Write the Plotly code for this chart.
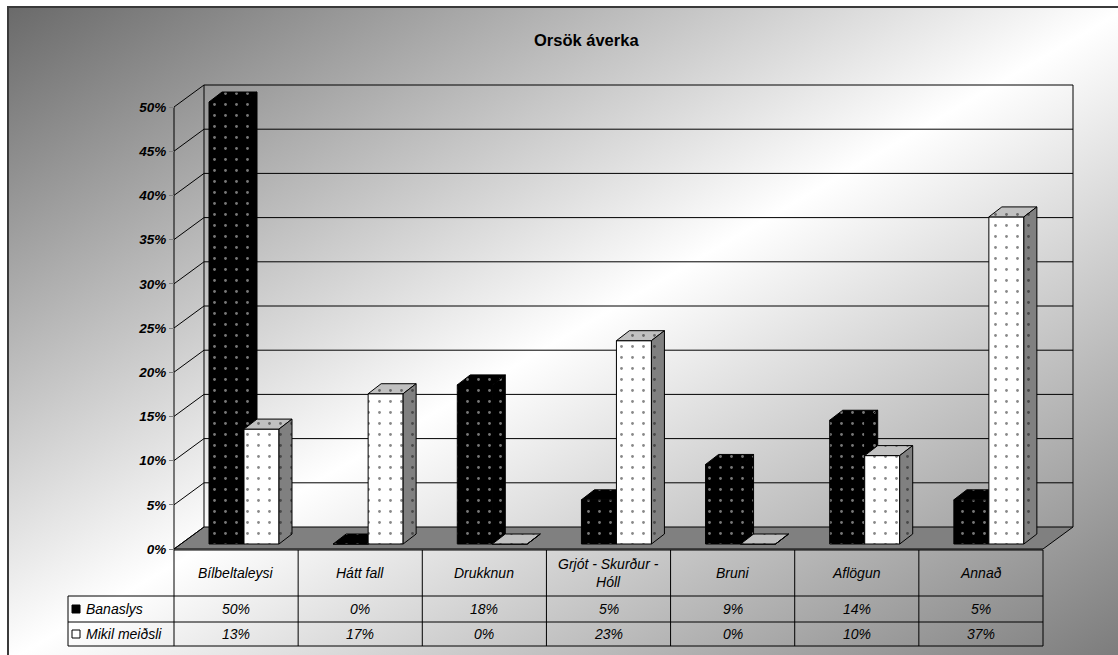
import base64
import plotly.graph_objects as go

# ---- data -------------------------------------------------------------
categories = ["Bílbeltaleysi", "Hátt fall", "Drukknun", "Grjót - Skurður - Hóll",
              "Bruni", "Aflögun", "Annað"]
category_labels = ["Bílbeltaleysi", "Hátt fall", "Drukknun", "Grjót - Skurður -<br>Hóll",
                   "Bruni", "Aflögun", "Annað"]
series_names = ["Banaslys", "Mikil meiðsli"]
banaslys = [50, 0, 18, 5, 9, 14, 5]
mikil_meidsli = [13, 17, 0, 23, 0, 10, 37]
y_ticks = [0, 5, 10, 15, 20, 25, 30, 35, 40, 45, 50]
y_tick_labels = ["0%", "5%", "10%", "15%", "20%", "25%", "30%", "35%", "40%", "45%", "50%"]

# ---- page geometry (pixels) ------------------------------------------
FIG_W, FIG_H = 1118, 655
AXIS_PX = 174            # front value axis / left edge of first category
COL_W = (1043 - 174) / 7 # width of one category column
ZERO_PX = 549            # pixel row of 0 % on the front plane
PX_PER_PCT = 8.84        # vertical pixels per percent

FONT = "Liberation Sans, Arial, sans-serif"

def px_x(px):
    return px / FIG_W

def px_y(py):
    return 1 - py / FIG_H

# depth of the floor / back wall, in data units
DEPTH_X = 30 / COL_W
DEPTH_Y = 22 / PX_PER_PCT
# columns: front-face placement and own depth
BAR_W = 35 / COL_W
BAR_OFF = 35 / COL_W
BAR_BASE = 5 / PX_PER_PCT
BAR_DX = 13 / COL_W
BAR_DY = 10 / PX_PER_PCT

x_range = [-AXIS_PX / COL_W, (FIG_W - AXIS_PX) / COL_W]
y_range = [(ZERO_PX - FIG_H) / PX_PER_PCT, ZERO_PX / PX_PER_PCT]
n_cat = len(categories)
y_top = y_ticks[-1]

styles = [
    dict(front="#000000", top="#000000", side="#000000", dots="#f0f0f0"),
    dict(front="#ffffff", top="#c0c0c0", side="#808080", dots="#111111"),
]

def face(xs, ys, fill, dots):
    return go.Scatter(
        x=xs + [xs[0]], y=ys + [ys[0]], mode="lines", fill="toself",
        fillcolor=fill,
        fillpattern=dict(shape=".", bgcolor=fill, fgcolor=dots, size=11, solidity=0.05),
        line=dict(color="#000000", width=1),
        hoverinfo="skip", showlegend=False,
    )

fig = go.Figure()

# 3-D columns, drawn category by category so nearer faces overlap correctly
for i in range(n_cat):
    for s, values in enumerate([banaslys, mikil_meidsli]):
        st = styles[s]
        v = values[i]
        x0 = i + BAR_OFF + s * BAR_W
        x1 = x0 + BAR_W
        b = BAR_BASE
        t = b + v
        fig.add_trace(face([x0, x1, x1, x0], [b, b, t, t], st["front"], st["dots"]))
        fig.add_trace(face([x0, x1, x1 + BAR_DX, x0 + BAR_DX],
                           [t, t, t + BAR_DY, t + BAR_DY], st["top"], st["dots"]))
        fig.add_trace(face([x1, x1 + BAR_DX, x1 + BAR_DX, x1],
                           [b, b + BAR_DY, t + BAR_DY, t], st["side"], st["dots"]))

shapes = []
line_k = dict(color="#000000", width=1)

# floor
shapes.append(dict(type="path", xref="x", yref="y", layer="below",
                   path=f"M 0,0 L {n_cat},0 L {n_cat + DEPTH_X},{DEPTH_Y} L {DEPTH_X},{DEPTH_Y} Z",
                   fillcolor="#808080", line=line_k))
# back wall and side wall gridlines
for t in y_ticks:
    if t > 0:
        shapes.append(dict(type="line", xref="x", yref="y", layer="below",
                           x0=DEPTH_X, x1=n_cat + DEPTH_X, y0=t + DEPTH_Y, y1=t + DEPTH_Y,
                           line=line_k))
    shapes.append(dict(type="line", xref="x", yref="y", layer="below",
                       x0=0, x1=DEPTH_X, y0=t, y1=t + DEPTH_Y, line=line_k))
for xv in [DEPTH_X, n_cat + DEPTH_X]:
    shapes.append(dict(type="line", xref="x", yref="y", layer="below",
                       x0=xv, x1=xv, y0=DEPTH_Y, y1=y_top + DEPTH_Y, line=line_k))
shapes.append(dict(type="line", xref="x", yref="y", layer="below",
                   x0=0, x1=0, y0=0, y1=y_top, line=line_k))

# data table grid
T_TOP, T_R1, T_R2, T_BOT = 550, 596, 622, 646
LEG_L = 68
T_RIGHT = AXIS_PX + COL_W * n_cat
tline = dict(color="#000000", width=1)
shapes.append(dict(type="line", xref="paper", yref="paper",
                   x0=px_x(AXIS_PX), x1=px_x(T_RIGHT), y0=px_y(T_TOP), y1=px_y(T_TOP), line=tline))
for yy in [T_R1, T_R2, T_BOT]:
    shapes.append(dict(type="line", xref="paper", yref="paper",
                       x0=px_x(LEG_L), x1=px_x(T_RIGHT), y0=px_y(yy), y1=px_y(yy), line=tline))
shapes.append(dict(type="line", xref="paper", yref="paper",
                   x0=px_x(LEG_L), x1=px_x(LEG_L), y0=px_y(T_R1), y1=px_y(T_BOT), line=tline))
for i in range(n_cat + 1):
    xx = AXIS_PX + COL_W * i
    shapes.append(dict(type="line", xref="paper", yref="paper",
                       x0=px_x(xx), x1=px_x(xx), y0=px_y(T_TOP), y1=px_y(T_BOT), line=tline))

# legend keys in the table
key_fill = ["#000000", "#ffffff"]
for s, yy in enumerate([(T_R1 + T_R2) / 2, (T_R2 + T_BOT) / 2]):
    shapes.append(dict(type="rect", xref="paper", yref="paper",
                       x0=px_x(72), x1=px_x(80), y0=px_y(yy - 4), y1=px_y(yy + 4),
                       fillcolor=key_fill[s], line=dict(color="#000000", width=1)))

# chart-area frame
shapes.append(dict(type="rect", xref="paper", yref="paper",
                   x0=px_x(8), x1=px_x(FIG_W + 10), y0=px_y(7), y1=px_y(FIG_H + 10),
                   fillcolor="rgba(0,0,0,0)", line=dict(color="#3a3a3a", width=2)))

annotations = []
annotations.append(dict(text="<b>Orsök áverka</b>", xref="paper", yref="paper",
                        x=px_x(586), y=px_y(40), showarrow=False,
                        xanchor="center", yanchor="middle",
                        font=dict(family=FONT, size=16.5, color="#000000")))
cell_font = dict(family=FONT, size=14, color="#000000", style="italic")
for i in range(n_cat):
    xc = px_x(AXIS_PX + COL_W * (i + 0.5))
    annotations.append(dict(text=category_labels[i], xref="paper", yref="paper",
                            x=xc, y=px_y((T_TOP + T_R1) / 2), showarrow=False,
                            xanchor="center", yanchor="middle", font=cell_font))
    for s, (values, yy) in enumerate([(banaslys, (T_R1 + T_R2) / 2),
                                       (mikil_meidsli, (T_R2 + T_BOT) / 2)]):
        annotations.append(dict(text=f"{values[i]}%", xref="paper", yref="paper",
                                x=xc, y=px_y(yy), showarrow=False,
                                xanchor="center", yanchor="middle", font=cell_font))
for s, yy in enumerate([(T_R1 + T_R2) / 2, (T_R2 + T_BOT) / 2]):
    annotations.append(dict(text=series_names[s], xref="paper", yref="paper",
                            x=px_x(84), y=px_y(yy), showarrow=False,
                            xanchor="left", yanchor="middle", font=cell_font))

# background gradient of the chart area
svg = (
    '<svg xmlns="http://www.w3.org/2000/svg" width="1110" height="648" '
    'preserveAspectRatio="none" viewBox="0 0 1110 648">'
    '<defs><linearGradient id="g" x1="0" y1="0" x2="1" y2="1">'
    '<stop offset="0" stop-color="#6a6a6a"/>'
    '<stop offset="0.5" stop-color="#ffffff"/>'
    '<stop offset="1" stop-color="#7a7a7a"/>'
    '</linearGradient></defs>'
    '<rect x="0" y="0" width="1110" height="648" fill="url(#g)"/></svg>'
)
bg_src = "data:image/svg+xml;base64," + base64.b64encode(svg.encode("utf-8")).decode("ascii")

fig.update_layout(
    width=FIG_W, height=FIG_H,
    margin=dict(l=0, r=0, t=0, b=0, pad=0),
    paper_bgcolor="#ffffff",
    plot_bgcolor="rgba(0,0,0,0)",
    showlegend=False,
    xaxis=dict(range=x_range, visible=False, fixedrange=True, domain=[0, 1]),
    yaxis=dict(range=y_range, domain=[0, 1], anchor="free", position=px_x(AXIS_PX),
               side="left", showgrid=False, zeroline=False, showline=False,
               ticks="outside", ticklen=5, tickcolor="#808080", tickwidth=1,
               tickvals=y_ticks, ticktext=y_tick_labels,
               tickfont=dict(family=FONT, size=13.5, color="#000000",
                             weight="bold", style="italic"),
               fixedrange=True),
    shapes=shapes,
    annotations=annotations,
    images=[dict(source=bg_src, xref="paper", yref="paper",
                 x=px_x(8), y=px_y(7), sizex=px_x(FIG_W) - px_x(8) + 0.01,
                 sizey=px_y(7) + 0.01, xanchor="left", yanchor="top",
                 sizing="stretch", layer="below")],
)

fig.write_html("out.html")
